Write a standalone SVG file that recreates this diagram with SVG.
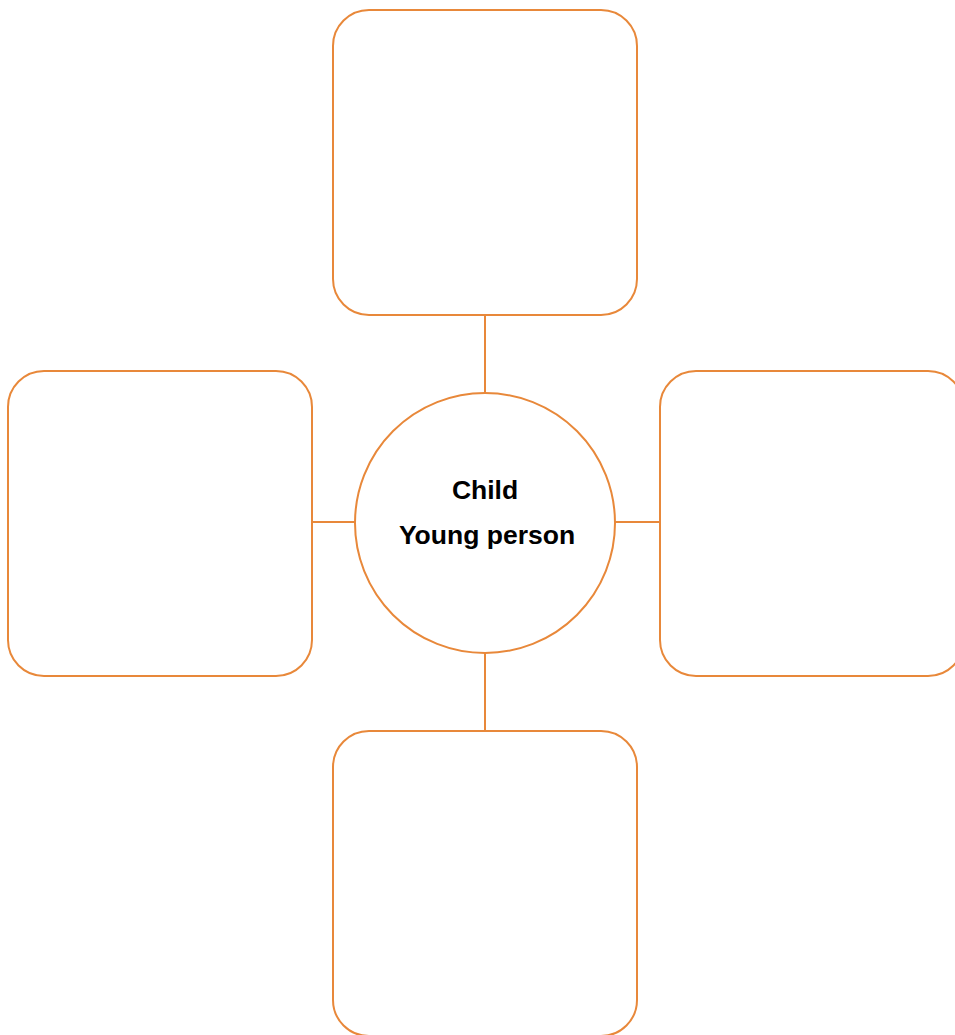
<svg xmlns="http://www.w3.org/2000/svg" width="955" height="1035" viewBox="0 0 955 1035">
  <style>
    .box { fill: #ffffff; stroke: #E8883A; stroke-width: 2; }
    .link { stroke: #E8883A; stroke-width: 2; fill: none; }
    .label { font-family: "Liberation Sans", Arial, sans-serif; font-weight: bold; font-size: 26.5px; fill: #000000; text-anchor: middle; }
  </style>
  <rect width="955" height="1035" fill="#ffffff"/>
  <g id="connectors">
    <line class="link" x1="485" y1="315" x2="485" y2="393"/>
    <line class="link" x1="485" y1="654" x2="485" y2="731"/>
    <line class="link" x1="312" y1="522" x2="355" y2="522"/>
    <line class="link" x1="615" y1="522" x2="660" y2="522"/>
  </g>
  <g id="box-top">
    <rect class="box" x="333" y="10" width="304" height="305" rx="36" ry="36"/>
  </g>
  <g id="box-left">
    <rect class="box" x="8" y="371" width="304" height="305" rx="36" ry="36"/>
  </g>
  <g id="box-right">
    <rect class="box" x="660" y="371" width="304" height="305" rx="36" ry="36"/>
  </g>
  <g id="box-bottom">
    <rect class="box" x="333" y="731" width="304" height="305" rx="36" ry="36"/>
  </g>
  <g id="centre">
    <circle class="box" cx="485" cy="523" r="130"/>
    <text class="label" x="485" y="499">Child</text>
    <text class="label" x="487" y="544">Young person</text>
  </g>
</svg>
